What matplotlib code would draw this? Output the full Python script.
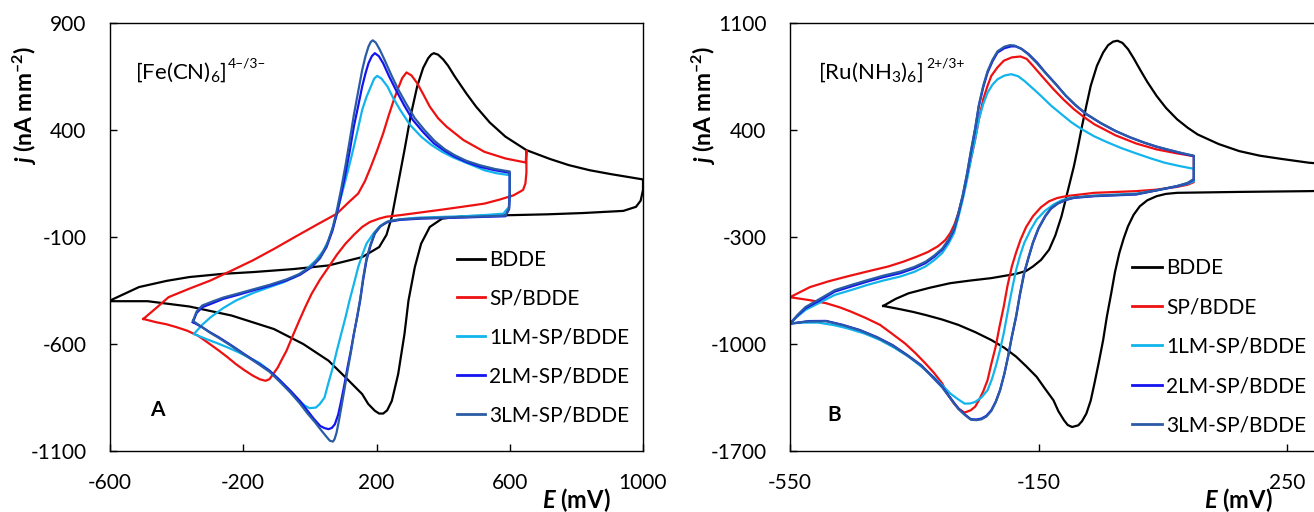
import numpy as np
import matplotlib
matplotlib.use("Agg")
import matplotlib.pyplot as plt

plt.rcParams['font.family'] = ['Lato', 'DejaVu Sans']
plt.rcParams['axes.unicode_minus'] = False
plt.rcParams['mathtext.fontset'] = 'custom'
plt.rcParams['mathtext.rm'] = 'Lato'
plt.rcParams['mathtext.it'] = 'Lato:italic'
plt.rcParams['mathtext.bf'] = 'Lato:bold'
plt.rcParams['mathtext.bfit'] = 'Lato:italic:bold'

labels = ["BDDE", "SP/BDDE", "1LM-SP/BDDE", "2LM-SP/BDDE", "3LM-SP/BDDE"]
colors = ["#000000", "#EE1111", "#12B4EC", "#1414F0", "#2A5CA6"]

# ---- panel A : [Fe(CN)6] 4-/3- ----
fe_bdde_E = [-600, -513, -430, -361, -260, -171, -50, 56, 157, 208, 230, 246, 265, 284, 303, 322, 340, 355, 364, 372,
             385, 400, 415, 435, 470, 499, 540, 587, 650, 720, 777, 840, 903, 1000, 1000, 993, 979, 941, 820, 713, 461,
             397, 360, 334, 315, 296, 284, 265, 246, 232, 220, 208, 195, 175, 157, 107, 56, -20, -108, -235,
             -361, -487, -600]
fe_bdde_j = [-397, -334, -305, -287, -272, -264, -250, -233, -194, -147, -90, -6, 150, 306, 470, 603, 690, 735, 752, 759,
             752, 730, 700, 650, 570, 509, 435, 369, 306, 265, 236, 212, 194, 169, 120, 70, 41, 22, 12, 6, -3,
             -14, -53, -131, -241, -397, -553, -741, -866, -910, -925, -925, -912, -880, -834, -756, -678, -600, -530, -467,
             -425, -400, -400]

fe_sp_E = [-500, -460, -424, -361, -298, -235, -171, -108, -45, 18, 81, 115, 145, 165, 183, 202, 220, 236, 252,
           265, 277, 290, 305, 322, 340, 360, 385, 410, 461, 524, 587, 648, 650, 650, 647, 640, 612, 570, 524,
           461, 397, 334, 271, 230, 208, 180, 157, 132, 107, 81, 56, 30, 5, -14, -32, -51, -70, -85, -96,
           -110, -121, -133, -150, -171, -197, -222, -247, -273, -305, -336, -368, -399, -430, -462, -500]
fe_sp_j = [-483, -430, -381, -341, -303, -257, -209, -156, -100, -45, 9, 60, 103, 160, 228, 305, 384, 465, 541,
           595, 642, 669, 655, 619, 568, 509, 455, 416, 353, 298, 267, 248, 303, 200, 150, 120, 95, 75, 56,
           42, 28, 15, 2, -5, -14, -30, -53, -90, -131, -183, -241, -300, -366, -428, -491, -560, -631, -675, -709,
           -740, -764, -772, -765, -748, -722, -694, -662, -631, -595, -561, -538, -522, -508, -498, -483]

fe_1lm_E = [-348, -323, -298, -260, -222, -171, -121, -80, -45, -10, 18, 40, 56, 70, 81, 94, 107, 120, 132,
            145, 157, 170, 183, 193, 202, 215, 233, 250, 271, 300, 334, 365, 397, 430, 461, 524, 560, 600,
            600, 597, 581, 520, 461, 334, 290, 246, 225, 208, 190, 170, 158, 145, 132, 119, 107, 94, 81, 69,
            56, 44, 30, 18, -1, -15, -32, -50, -70, -95, -121, -150, -184, -215, -247, -280, -311, -348]
fe_1lm_j = [-553, -510, -475, -432, -397, -362, -334, -312, -287, -250, -209, -165, -116, -50, 9, 90, 166, 245, 322,
            410, 494, 555, 603, 640, 653, 640, 603, 550, 494, 425, 369, 330, 298, 272, 252, 212, 198, 189,
            100, 40, 9, 2, -3, -9, -14, -22, -35, -53, -85, -131, -180, -241, -320, -397, -475, -553, -631, -709,
            -780, -850, -880, -897, -900, -888, -866, -836, -803, -762, -725, -690, -662, -638, -616, -595, -577, -553]

fe_2lm_E = [-351, -340, -323, -290, -260, -215, -171, -120, -70, -30, 5, 30, 50, 68, 81, 94, 107, 120, 132,
            145, 157, 167, 176, 186, 195, 207, 220, 238, 258, 283, 309, 340, 372, 405, 435, 470, 511, 555, 600,
            600, 598, 587, 520, 461, 334, 270, 233, 212, 195, 182, 170, 160, 151, 142, 132, 123, 113, 104, 94,
            85, 75, 66, 56, 44, 31, 12, -7, -30, -58, -90, -121, -160, -197, -235, -273, -300, -323, -351]
fe_2lm_j = [-498, -455, -428, -408, -389, -370, -350, -328, -303, -277, -241, -200, -147, -70, 9, 100, 197, 305, 416,
            512, 603, 665, 712, 745, 759, 745, 712, 650, 588, 515, 447, 390, 338, 302, 275, 250, 228, 212, 200,
            100, 30, -3, -6, -9, -14, -20, -30, -50, -84, -140, -209, -300, -397, -475, -553, -631, -709, -787, -866,
            -930, -975, -992, -998, -993, -983, -950, -912, -866, -819, -770, -725, -685, -647, -607, -569, -545, -522, -498]

fe_3lm_E = [-351, -340, -323, -290, -260, -215, -171, -120, -70, -30, 5, 30, 50, 68, 81, 94, 107, 120, 132,
            145, 157, 167, 176, 183, 189, 198, 210, 225, 245, 265, 290, 315, 345, 375, 405, 435, 470, 511, 555, 600,
            600, 598, 587, 520, 461, 334, 270, 233, 212, 195, 182, 170, 160, 151, 142, 132, 123, 113, 104, 95,
            87, 80, 74, 69, 60, 48, 35, 15, -7, -30, -58, -90, -121, -160, -197, -235, -273, -300, -323, -351]
fe_3lm_j = [-492, -448, -420, -400, -383, -364, -345, -323, -298, -272, -236, -195, -140, -60, 25, 125, 235, 355, 470,
            580, 680, 745, 790, 812, 819, 808, 775, 725, 655, 590, 520, 455, 398, 348, 310, 282, 256, 235, 218, 206,
            110, 35, 0, -4, -7, -12, -18, -28, -48, -80, -135, -200, -290, -390, -470, -555, -640, -725, -810, -890,
            -960, -1015, -1045, -1056, -1052, -1030, -1005, -965, -925, -878, -828, -777, -730, -688, -650, -610, -572, -547, -522, -492]

# ---- panel B : [Ru(NH3)6] 2+/3+ ----
ru_bdde_E = [-400, -380, -359, -325, -292, -260, -226, -186, -170, -159, -146, -133, -123, -113, -103, -93, -86,
             -80, -73, -66, -56, -46, -38, -30, -23, -15, -6, 3, 13, 25, 40, 55, 73, 90, 106, 140, 173, 206,
             239, 285, 350, 350, 285, 173, 73, 55, 40, 25, 13, 3, -6, -13, -20, -27, -33, -40, -46, -53, -60,
             -66, -73, -80, -86, -96, -103, -109, -118, -126, -140, -153, -170, -186, -205, -226, -252, -279,
             -305, -332, -352, -372, -400]
ru_bdde_j = [-751, -705, -668, -632, -602, -585, -569, -541, -522, -493, -450, -383, -290, -164, 0, 164, 300,
             426, 560, 689, 820, 907, 955, 978, 984, 970, 929, 870, 798, 715, 623, 545, 470, 415, 371, 308, 262, 232,
             212, 186, 165, 5, 0, -5, -11, -18, -33, -60, -99, -155, -230, -310, -405, -530, -668, -820, -974, -1120, -1258,
             -1370, -1455, -1505, -1532, -1543, -1530, -1499, -1440, -1368, -1290, -1215, -1145, -1083, -1025, -974, -922, -875,
             -840, -810, -790, -773, -751]

ru_sp_E = [-550, -518, -488, -458, -425, -392, -368, -345, -328, -312, -300, -292, -285, -279, -272, -266, -259,
           -252, -246, -239, -232, -226, -216, -206, -193, -179, -169, -159, -143, -126, -110, -93, -77, -60, -26,
           7, 40, 73, 100, 100, 100, 90, 73, 40, 7, -60, -106, -120, -133, -146, -159, -170, -179, -186, -193,
           -200, -206, -213, -219, -226, -232, -239, -246, -252, -259, -269, -278, -286, -296, -305, -318, -332,
           -348, -365, -385, -405, -428, -452, -470, -492, -520, -550]
ru_sp_j = [-694, -628, -590, -558, -525, -493, -462, -427, -398, -361, -320, -274, -215, -143, -40, 76, 205,
           339, 470, 601, 690, 754, 810, 853, 875, 881, 865, 820, 745, 667, 600, 536, 485, 437, 365,
           312, 273, 247, 229, 160, 59, 42, 28, 10, 0, -11, -33, -45, -66, -105, -164, -235, -318, -400, -493,
           -620, -755, -890, -1018, -1130, -1236, -1310, -1368, -1410, -1433, -1449, -1425, -1390, -1330, -1258, -1190, -1127,
           -1060, -996, -935, -875, -830, -788, -760, -733, -712, -694]

ru_1lm_E = [-550, -538, -525, -500, -478, -450, -425, -400, -372, -350, -332, -318, -305, -295, -286, -279, -272,
            -265, -259, -252, -246, -239, -232, -224, -216, -205, -194, -183, -173, -160, -146, -130, -113, -97,
            -80, -60, -40, -17, 7, 30, 53, 77, 100, 100, 100, 90, 73, 40, 7, -60, -100, -113, -126, -140, -153,
            -163, -173, -180, -186, -191, -196, -201, -206, -212, -219, -225, -232, -242, -252, -260, -269, -280,
            -292, -305, -319, -338, -359, -382, -405, -430, -458, -480, -505, -528, -550]
ru_1lm_j = [-865, -820, -777, -725, -679, -645, -613, -585, -558, -528, -493, -452, -405, -345, -274, -170, -55,
            75, 207, 340, 470, 570, 645, 697, 732, 756, 765, 752, 722, 675, 623, 560, 503, 450,
            404, 358, 321, 282, 247, 215, 186, 164, 146, 100, 65, 48, 32, 5, -16, -29, -44, -60, -88, -130, -186,
            -255, -339, -425, -515, -610, -711, -820, -930, -1040, -1149, -1230, -1302, -1350, -1379, -1389, -1390, -1360,
            -1324, -1270, -1215, -1150, -1083, -1025, -974, -932, -897, -876, -860, -860, -865]

ru_2lm_E = [-550, -538, -525, -500, -478, -450, -425, -400, -372, -350, -332, -318, -305, -295, -286, -279, -272,
            -265, -259, -252, -246, -239, -232, -224, -216, -205, -194, -187, -177, -166, -152, -139, -122, -106,
            -90, -73, -50, -26, -3, 20, 40, 60, 80, 100, 100, 100, 90, 73, 40, 7, -60, -93, -106, -119, -130,
            -139, -150, -159, -166, -173, -180, -186, -193, -199, -205, -212, -219, -226, -234, -242, -250, -259,
            -269, -279, -292, -305, -322, -339, -362, -385, -410, -438, -465, -492, -520, -550]
ru_2lm_j = [-868, -815, -766, -710, -657, -622, -591, -563, -536, -505, -471, -430, -383, -325, -252, -150, -33,
            110, 251, 405, 557, 680, 776, 850, 907, 935, 947, 947, 930, 897, 840, 776, 700, 623,
            560, 503, 445, 393, 352, 317, 290, 269, 248, 229, 150, 76, 52, 32, 5, -22, -33, -44, -58, -81, -115,
            -164, -245, -339, -435, -536, -680, -821, -955, -1083, -1195, -1302, -1378, -1433, -1470, -1488, -1494, -1492,
            -1460, -1422, -1352, -1280, -1208, -1138, -1070, -1007, -955, -908, -875, -849, -850, -868]

ru_3lm_E = [-550, -538, -525, -500, -478, -450, -425, -400, -372, -350, -332, -318, -305, -295, -286, -279, -272,
            -265, -259, -252, -246, -239, -232, -224, -216, -205, -196, -189, -179, -168, -154, -140, -123, -106,
            -90, -73, -50, -26, -3, 20, 40, 60, 80, 100, 100, 100, 90, 73, 40, 7, -60, -93, -106, -119, -130,
            -139, -150, -159, -166, -173, -180, -186, -193, -199, -205, -212, -219, -226, -234, -242, -250, -259,
            -269, -279, -292, -305, -322, -339, -362, -385, -410, -438, -465, -492, -520, -550]
ru_3lm_j = [-866, -810, -758, -700, -648, -612, -582, -553, -526, -496, -462, -422, -376, -318, -245, -142, -25,
            118, 260, 412, 565, 690, 785, 860, 915, 945, 955, 953, 935, 900, 843, 778, 702, 625,
            562, 505, 446, 394, 353, 318, 292, 270, 250, 232, 150, 80, 54, 34, 6, -20, -31, -42, -56, -80, -112,
            -160, -240, -335, -430, -530, -672, -815, -950, -1080, -1195, -1305, -1382, -1438, -1475, -1493, -1498, -1495,
            -1463, -1425, -1356, -1284, -1212, -1141, -1073, -1010, -957, -910, -877, -851, -852, -866]

fe_curves = [(fe_bdde_E, fe_bdde_j), (fe_sp_E, fe_sp_j), (fe_1lm_E, fe_1lm_j),
             (fe_2lm_E, fe_2lm_j), (fe_3lm_E, fe_3lm_j)]
ru_curves = [(ru_bdde_E, ru_bdde_j), (ru_sp_E, ru_sp_j), (ru_1lm_E, ru_1lm_j),
             (ru_2lm_E, ru_2lm_j), (ru_3lm_E, ru_3lm_j)]

W, H = 1314, 512
fig = plt.figure(figsize=(W / 100, H / 100), dpi=100)

def px_axes(left, right, top, bottom):
    return fig.add_axes([left / W, 1 - bottom / H, (right - left) / W, (bottom - top) / H])

TOP, BOT = 23, 451
axA = px_axes(110, 643, TOP, BOT)
axB = px_axes(790, 1535.6, TOP, BOT)  # right part of panel B is cropped off, as in the source

for ax, curves in [(axA, fe_curves), (axB, ru_curves)]:
    for (e, j), lab, c in zip(curves, labels, colors):
        ax.plot(e, j, color=c, lw=1.6, label=lab, solid_joinstyle='round')
    ax.tick_params(direction='in', length=5, width=1, labelsize=15)
    ax.tick_params(axis='x', pad=16)
    ax.tick_params(axis='y', pad=17)
    for s in ax.spines.values():
        s.set_linewidth(1.0)

axA.set_xlim(-600, 1000)
axA.set_ylim(-1100, 900)
axA.set_xticks([-600, -200, 200, 600, 1000])
axA.set_yticks([-1100, -600, -100, 400, 900])

axB.set_xlim(-550, 650)
axB.set_ylim(-1700, 1100)
axB.set_xticks([-550, -150, 250])
axB.set_yticks([-1700, -1000, -300, 400, 1100])

hA = BOT - TOP
legA = axA.legend(loc='upper left', bbox_to_anchor=((457 - 110) / 533, (BOT - 250) / hA),
                  frameon=False, fontsize=15, handlelength=1.35, handletextpad=0.2,
                  labelspacing=0.9, borderpad=0, borderaxespad=0)
legB = axB.legend(loc='upper left', bbox_to_anchor=((1132 - 790) / 745.6, (BOT - 258) / hA),
                  frameon=False, fontsize=15, handlelength=1.45, handletextpad=0.2,
                  labelspacing=0.93, borderpad=0, borderaxespad=0)
for leg in (legA, legB):
    for ln in leg.get_lines():
        ln.set_linewidth(2)

def ftext(x, y, s, **kw):
    fig.text(x / W, 1 - y / H, s, **kw)

dash = '\u2013'
ftext(135, 72, '[Fe(CN)$_6$]', fontsize=16, va='center', ha='left')
ftext(228, 64, '4' + dash + '/3' + dash, fontsize=10, va='center', ha='left')
ftext(818, 72, '[Ru(NH$_3$)$_6$]', fontsize=16, va='center', ha='left')
ftext(926, 64, '2+/3+', fontsize=10, va='center', ha='left')
ftext(157, 410, 'A', fontsize=15, fontweight='bold', va='center', ha='center')
ftext(834, 415, 'B', fontsize=15, fontweight='bold', va='center', ha='center')

ylab = '$\\mathbfit{j}$ (nA mm$^{\\mathbf{' + dash + '2}}$)'
ftext(25, 105, ylab, fontsize=16.5, fontweight='bold', rotation=90, va='center', ha='center')
ftext(704, 105, ylab, fontsize=16.5, fontweight='bold', rotation=90, va='center', ha='center')

xlab = '$\\mathbfit{E}$ (mV)'
ftext(576, 500, xlab, fontsize=17, fontweight='bold', va='center', ha='center')
ftext(1238, 500, xlab, fontsize=17, fontweight='bold', va='center', ha='center')

fig.savefig("out.png", dpi=100)
